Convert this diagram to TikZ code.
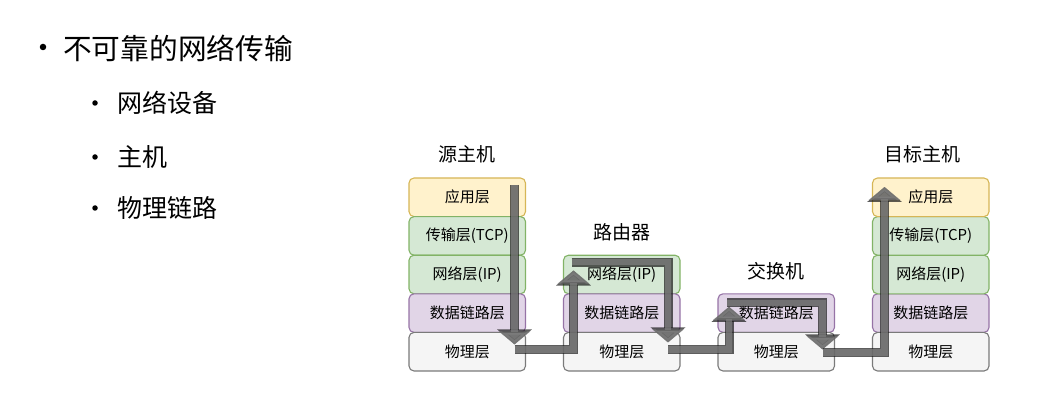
\documentclass[tikz,border=0pt]{standalone}
\usepackage{fontspec}
\newfontfamily\cjk{Noto Sans CJK SC}
\usetikzlibrary{positioning,arrows.meta}

\definecolor{appfill}{HTML}{FFF2CC}
\definecolor{appline}{HTML}{D6B656}
\definecolor{netfill}{HTML}{D5E8D4}
\definecolor{netline}{HTML}{82B366}
\definecolor{linkfill}{HTML}{E1D5E7}
\definecolor{linkline}{HTML}{9673A6}
\definecolor{physfill}{HTML}{F5F5F5}
\definecolor{physline}{HTML}{7A7A7A}

\tikzset{
  layer/.style={rounded corners=5pt, line width=1.1pt, minimum width=116.5pt,
    minimum height=38.6pt, inner sep=0pt, outer sep=0pt,
    font=\cjk\fontsize{15}{15}\selectfont},
  app/.style={layer, draw=appline, fill=appfill},
  net/.style={layer, draw=netline, fill=netfill},
  link/.style={layer, draw=linkline, fill=linkfill},
  phys/.style={layer, draw=physline, fill=physfill},
  title/.style={font=\cjk\fontsize{19}{19}\selectfont, inner sep=2pt},
  topic/.style={font=\cjk\fontsize{28.7}{28.7}\selectfont, inner sep=0pt, anchor=west},
  item/.style={font=\cjk\fontsize{25}{25}\selectfont, inner sep=0pt, anchor=west},
  dot/.style={circle, fill=black, inner sep=0pt, minimum size=#1},
  flow/.style={draw=black!50, line width=6.5pt, opacity=.7,
    -{Triangle[width=31pt,length=13pt]},
    preaction={draw=black!90, line width=9pt, opacity=.7,
      -{Triangle[width=34pt,length=15pt]}}}
}

\begin{document}
\begin{tikzpicture}[x=1pt,y=-1pt]
\useasboundingbox (0,0) rectangle (1056,403);

% list
\node[topic] (t0) at (63,48) {不可靠的网络传输};
\node[dot=6.5pt] (b0) at (43,47) {};
\node[item] (t1) at (117,103) {网络设备};
\node[item] (t2) at (117,157) {主机};
\node[item] (t3) at (117,208) {物理链路};
\node[dot=5.5pt] (b1) at (95,103) {};
\node[dot=5.5pt] (b2) at (95,157) {};
\node[dot=5.5pt] (b3) at (95,208) {};

% source host
\node[app] (sApp) at (467.25,197.3) {应用层};
\node[net, below=0pt of sApp] (sTrans) {传输层(TCP)};
\node[net, below=0pt of sTrans] (sNet) {网络层(IP)};
\node[link, below=0pt of sNet] (sLink) {数据链路层};
\node[phys, below=0pt of sLink] (sPhys) {物理层};
\node[title, above=13pt of sApp] (sTitle) {源主机};

% router
\node[net, right=38pt of sNet] (rNet) {网络层(IP)};
\node[link, below=0pt of rNet] (rLink) {数据链路层};
\node[phys, below=0pt of rLink] (rPhys) {物理层};
\node[title, above=12pt of rNet] (rTitle) {路由器};

% switch
\node[link, right=38pt of rLink] (swLink) {数据链路层};
\node[phys, below=0pt of swLink] (swPhys) {物理层};
\node[title, above=12pt of swLink] (swTitle) {交换机};

% destination host
\node[link, right=38pt of swLink] (dLink) {数据链路层};
\node[net, above=0pt of dLink] (dNet) {网络层(IP)};
\node[net, above=0pt of dNet] (dTrans) {传输层(TCP)};
\node[app, above=0pt of dTrans] (dApp) {应用层};
\node[phys, below=0pt of dLink] (dPhys) {物理层};
\node[title, above=13pt of dApp, xshift=-8pt] (dTitle) {目标主机};

% data path
\draw[flow] ([xshift=-11pt,yshift=-7pt]sApp.north east) -- ([xshift=-11pt,yshift=-12pt]sPhys.north east);
\draw[flow] ([xshift=-11pt,yshift=2pt]sPhys.east) -| ([xshift=10pt,yshift=4pt]rNet.west);
\draw[flow] ([xshift=8pt,yshift=-7pt]rNet.north west) -| ([xshift=-12pt,yshift=-10pt]rPhys.north east);
\draw[flow] ([xshift=-12pt,yshift=2pt]rPhys.east) -| ([xshift=11pt,yshift=-13pt]swLink.north west);
\draw[flow] ([xshift=9pt,yshift=-9pt]swLink.north west) -| ([xshift=-12pt,yshift=-17pt]swLink.south east);
\draw[flow] ([xshift=-12pt,yshift=-1pt]swPhys.east) -| ([xshift=12pt,yshift=-9pt]dApp.north west);
\end{tikzpicture}
\end{document}
